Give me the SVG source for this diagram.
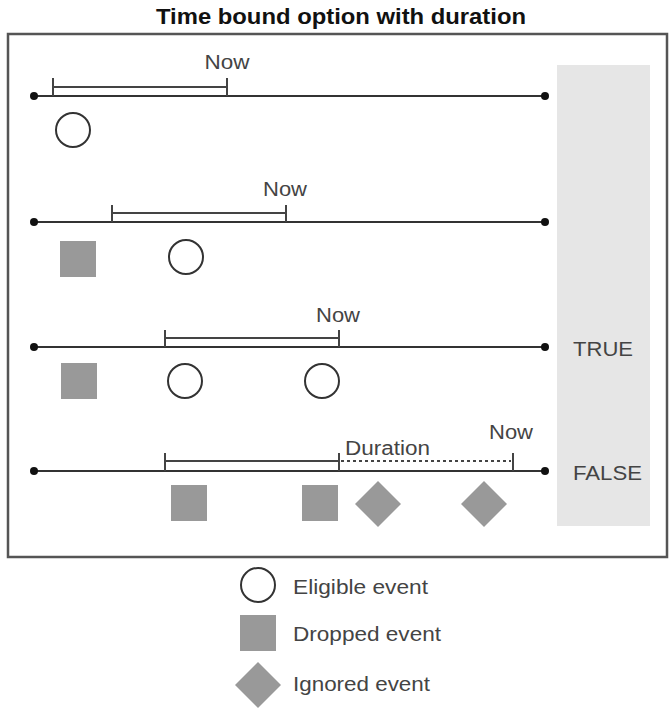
<svg xmlns="http://www.w3.org/2000/svg" width="671" height="708" viewBox="0 0 671 708">
<style>
.title{font-family:"Liberation Sans",Arial,sans-serif;font-weight:bold;font-size:22px;fill:#111}
.lbl{font-family:"Liberation Sans",Arial,sans-serif;font-size:20px;fill:#444}
.tl{stroke:#333;stroke-width:2.2;fill:none}
.br{stroke:#444;stroke-width:2;fill:none}
.dot{fill:#111}
.elig{fill:#fff;stroke:#333;stroke-width:2}
.drop{fill:#999}
.ign{fill:#999}
</style>
<defs>
<circle id="e" r="17" class="elig"/>
<rect id="d" x="-18" y="-18" width="36" height="36" class="drop"/>
<polygon id="g" points="0,-23 23,0 0,23 -23,0" class="ign"/>
</defs>
<rect x="0" y="0" width="671" height="708" fill="#fff"/>
<text class="title" x="341" y="24" text-anchor="middle" textLength="370" lengthAdjust="spacingAndGlyphs">Time bound option with duration</text>
<g id="frame">
<rect x="8" y="34" width="659" height="523" fill="none" stroke="#555" stroke-width="2.5"/>
<rect x="557" y="65" width="93" height="461" fill="#e6e6e6"/>
</g>
<g id="connectors">
<g id="timeline1">
<line class="tl" x1="34" y1="96" x2="545" y2="96"/>
<circle class="dot" cx="34" cy="96" r="4"/><circle class="dot" cx="545" cy="96" r="4"/>
<path class="br" d="M53,78V96M227,78V96M53,87H227"/>
</g>
<g id="timeline2">
<line class="tl" x1="34" y1="222" x2="545" y2="222"/>
<circle class="dot" cx="34" cy="222" r="4"/><circle class="dot" cx="545" cy="222" r="4"/>
<path class="br" d="M112,205V222M286,205V222M112,213H286"/>
</g>
<g id="timeline3">
<line class="tl" x1="34" y1="347" x2="545" y2="347"/>
<circle class="dot" cx="34" cy="347" r="4"/><circle class="dot" cx="545" cy="347" r="4"/>
<path class="br" d="M165,330V347M339,330V347M165,338H339"/>
</g>
<g id="timeline4">
<line class="tl" x1="34" y1="471" x2="545" y2="471"/>
<circle class="dot" cx="34" cy="471" r="4"/><circle class="dot" cx="545" cy="471" r="4"/>
<path class="br" d="M165,453V471M339,453V471M513,453V471M165,461H339"/>
<line x1="341" y1="461" x2="511" y2="461" stroke="#444" stroke-width="2" stroke-dasharray="3,3"/>
</g>
</g>
<g id="labels">
<text class="lbl" x="227" y="69" text-anchor="middle" textLength="45" lengthAdjust="spacingAndGlyphs">Now</text>
<text class="lbl" x="285" y="196" text-anchor="middle" textLength="44" lengthAdjust="spacingAndGlyphs">Now</text>
<text class="lbl" x="338" y="322" text-anchor="middle" textLength="44" lengthAdjust="spacingAndGlyphs">Now</text>
<text class="lbl" x="511" y="439" text-anchor="middle" textLength="44" lengthAdjust="spacingAndGlyphs">Now</text>
<text class="lbl" x="345" y="455" textLength="85" lengthAdjust="spacingAndGlyphs">Duration</text>
<text class="lbl" x="573" y="356" font-size="21" textLength="60" lengthAdjust="spacingAndGlyphs">TRUE</text>
<text class="lbl" x="573" y="480" font-size="21" textLength="69" lengthAdjust="spacingAndGlyphs">FALSE</text>
</g>
<g id="events1"><use href="#e" x="73" y="130"/></g>
<g id="events2"><use href="#d" x="78" y="259"/><use href="#e" x="186" y="257"/></g>
<g id="events3"><use href="#d" x="79" y="381"/><use href="#e" x="185" y="381"/><use href="#e" x="322" y="381"/></g>
<g id="events4"><use href="#d" x="189" y="503"/><use href="#d" x="320" y="503"/><use href="#g" x="378" y="504"/><use href="#g" x="484" y="504"/></g>
<g id="legend">
<use href="#e" x="258" y="585"/>
<text class="lbl" x="293" y="594" textLength="135" lengthAdjust="spacingAndGlyphs">Eligible event</text>
<use href="#d" x="258" y="633"/>
<text class="lbl" x="293" y="641" textLength="148" lengthAdjust="spacingAndGlyphs">Dropped event</text>
<use href="#g" x="258" y="685"/>
<text class="lbl" x="293" y="691" textLength="137" lengthAdjust="spacingAndGlyphs">Ignored event</text>
</g>
</svg>
